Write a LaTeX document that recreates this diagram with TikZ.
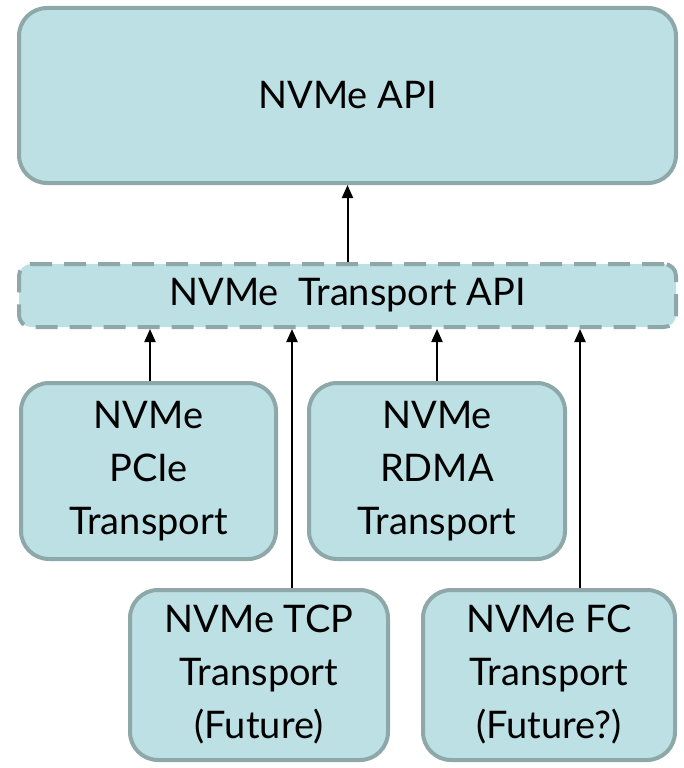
\documentclass[tikz,border=0pt]{standalone}
\usepackage{fontspec}
\setmainfont{Lato}
\usetikzlibrary{arrows.meta,calc}
\definecolor{boxfill}{HTML}{BCE0E4}
\definecolor{boxline}{HTML}{8EA8AA}
\begin{document}
\begin{tikzpicture}[x=1pt,y=-1pt,
  box/.style={draw=boxline,fill=boxfill,line width=4pt,rounded corners=28pt,
    align=center,inner sep=0pt,font=\fontsize{38}{53}\selectfont},
  dbox/.style={box,rounded corners=12pt,dash pattern=on 22pt off 12pt},
  arr/.style={line width=2pt,-{Triangle[length=13pt,width=11pt]}}]
\useasboundingbox (0,0) rectangle (683,768);
\node[box,minimum width=657pt,minimum height=175pt] (api) at (347.5,95.5) {NVMe API};
\node[dbox,minimum width=657pt,minimum height=63pt] (tapi) at (347.5,295.5) {NVMe\ \ Transport API};
\node[box,minimum width=255pt,minimum height=176pt] (pcie) at (148.5,471) {NVMe\\PCIe\\Transport};
\node[box,minimum width=256pt,minimum height=176pt] (rdma) at (437,471) {NVMe\\RDMA\\Transport};
\node[box,minimum width=258pt,minimum height=170pt] (tcp) at (259,675) {NVMe TCP\\Transport\\(Future)};
\node[box,minimum width=252pt,minimum height=170pt] (fc) at (549,675) {NVMe FC\\Transport\\(Future?)};
\draw[arr] (tapi.north) -- (tapi.north |- api.south);
\draw[arr] ([xshift=1.5pt]pcie.north) -- ([xshift=1.5pt]pcie.north |- tapi.south);
\draw[arr] (rdma.north) -- (rdma.north |- tapi.south);
\draw[arr] ([xshift=33pt]tcp.north) -- ([xshift=33pt]tcp.north |- tapi.south);
\draw[arr] ([xshift=31pt]fc.north) -- ([xshift=31pt]fc.north |- tapi.south);
\end{tikzpicture}
\end{document}
